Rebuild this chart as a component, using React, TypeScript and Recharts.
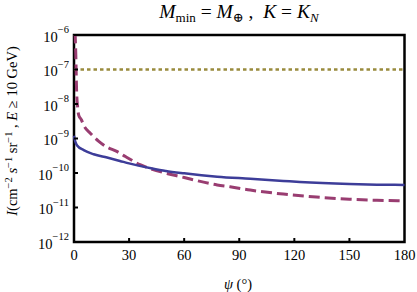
import React from 'react';
import { LineChart, Line, XAxis, YAxis, ReferenceArea, Label } from 'recharts';

document.body.style.margin = '0';

const serif = '"Liberation Serif", "DejaVu Serif", serif';

// axis ticks
const psiTicks = [0, 30, 60, 90, 120, 150, 180];
const fluxTicks = [1e-12, 1e-11, 1e-10, 1e-9, 1e-8, 1e-7, 1e-6];

// solid blue curve
const psiBlue = [0, 0.5, 1, 1.7, 5.3, 10.7, 18, 25, 30, 42, 50, 60, 78, 96, 114, 123, 150, 165, 180];
const fluxBlue = [
  1.2e-9, 8.9e-10, 7.4e-10, 6.3e-10, 4.6e-10, 3.5e-10, 2.8e-10, 2.24e-10, 1.9e-10, 1.38e-10,
  1.15e-10, 9.8e-11, 7.8e-11, 6.8e-11, 5.9e-11, 5.5e-11, 4.8e-11, 4.6e-11, 4.5e-11,
];

// dashed magenta curve
const psiMagenta = [0, 0.5, 1, 1.4, 2, 2.6, 4, 5.3, 9, 13.5, 18, 23, 28, 36, 42, 49, 60, 67, 78, 85, 96, 114, 132, 150, 165, 180];
const fluxMagenta = [
  1e-5, 1.6e-6, 2.5e-7, 2.5e-8, 7.9e-9, 4.7e-9, 3.5e-9, 2.4e-9, 1.4e-9, 8.3e-10, 5.6e-10, 4.3e-10,
  3.0e-10, 1.74e-10, 1.32e-10, 1.02e-10, 7.4e-11, 6.0e-11, 4.5e-11, 4.0e-11, 3.2e-11, 2.45e-11,
  2.0e-11, 1.74e-11, 1.62e-11, 1.55e-11,
];

// dotted olive line
const psiOlive = [0, 180];
const fluxOlive = [1e-7, 1e-7];

const toRows = (psi: number[], flux: number[]) => psi.map((p, i) => ({ psi: p, flux: flux[i] }));

const YTick = (props: any) => {
  const { x, y, payload } = props;
  const exp = Math.round(Math.log10(payload.value));
  return (
    <g>
      <line x1={x + 5} x2={x + 9} y1={y} y2={y} stroke="#000" strokeWidth={2} />
      <text x={x} y={y} textAnchor="end" fontFamily={serif} fontSize={14.5} fill="#000">
        <tspan dy="0.45em">10</tspan>
        <tspan dy="-0.8em" fontSize={10.5}>{`−${-exp}`}</tspan>
      </text>
    </g>
  );
};

const XTick = (props: any) => {
  const { x, y, payload } = props;
  return (
    <g>
      {payload.value > 0 && payload.value < 180 && (
        <line x1={x} x2={x} y1={y - 6} y2={y - 10} stroke="#000" strokeWidth={2} />
      )}
      <text x={x} y={y} dy="0.8em" textAnchor="middle" fontFamily={serif} fontSize={14.5} fill="#000">
        {payload.value}
      </text>
    </g>
  );
};

const YTitle = () => (
  <text x={17} y={131} transform="rotate(-90 17 131)" textAnchor="middle" fontFamily={serif} fontSize={14.5} fill="#000">
    <tspan fontStyle="italic">I</tspan>
    <tspan>(cm</tspan>
    <tspan dy={-5} fontSize={10.5}>−2</tspan>
    <tspan dy={5}> </tspan>
    <tspan fontStyle="italic">s</tspan>
    <tspan dy={-5} fontSize={10.5}>−1</tspan>
    <tspan dy={5}> sr</tspan>
    <tspan dy={-5} fontSize={10.5}>−1</tspan>
    <tspan dy={5}> , </tspan>
    <tspan fontStyle="italic">E</tspan>
    <tspan> ≥ 10 GeV)</tspan>
  </text>
);

const XTitle = () => (
  <text x={238} y={289} textAnchor="middle" fontFamily={serif} fontSize={14.5} fill="#000">
    <tspan fontStyle="italic">ψ</tspan>
    <tspan> (°)</tspan>
  </text>
);

export default function App() {
  return (
    <div style={{ position: 'relative', width: 417, height: 292, background: '#fff' }}>
      <div
        style={{
          position: 'absolute',
          top: 1,
          left: 74,
          width: 330,
          textAlign: 'center',
          fontFamily: serif,
          fontSize: 19.5,
          lineHeight: '22px',
          whiteSpace: 'nowrap',
        }}
      >
        <i>M</i>
        <span style={{ fontSize: 13, position: 'relative', top: 4 }}>min</span> = <i>M</i>
        <span style={{ fontSize: 13, position: 'relative', top: 4 }}>⊕</span> ,&nbsp; <i>K</i> = <i>K</i>
        <span style={{ fontSize: 13, position: 'relative', top: 4, fontStyle: 'italic' }}>N</span>
      </div>
      <LineChart width={417} height={292} margin={{ top: 35, right: 12.5, bottom: 20, left: 0 }}>
        <XAxis
          type="number"
          dataKey="psi"
          domain={[0, 180]}
          ticks={psiTicks}
          height={30}
          axisLine={false}
          tickLine={false}
          tickSize={0}
          tickMargin={6}
          tick={<XTick />}
        >
          <Label content={<XTitle />} />
        </XAxis>
        <YAxis
          type="number"
          scale="log"
          domain={[1e-12, 1e-6]}
          ticks={fluxTicks}
          allowDataOverflow
          width={74}
          axisLine={false}
          tickLine={false}
          tickSize={0}
          tickMargin={5}
          tick={<YTick />}
        >
          <Label content={<YTitle />} />
        </YAxis>
        <Line
          data={toRows(psiOlive, fluxOlive)}
          dataKey="flux"
          stroke="#998b3d"
          strokeWidth={2.5}
          strokeDasharray="3.5 3"
          dot={false}
          isAnimationActive={false}
        />
        <Line
          data={toRows(psiMagenta, fluxMagenta)}
          dataKey="flux"
          type="monotone"
          stroke="#993d71"
          strokeWidth={3}
          strokeDasharray="11 5"
          dot={false}
          isAnimationActive={false}
        />
        <Line
          data={toRows(psiBlue, fluxBlue)}
          dataKey="flux"
          type="monotone"
          stroke="#3d3d99"
          strokeWidth={2.5}
          dot={false}
          isAnimationActive={false}
        />
        <ReferenceArea x1={0} x2={180} y1={1e-12} y2={1e-6} fill="none" stroke="#000" strokeWidth={2.5} ifOverflow="visible" />
      </LineChart>
    </div>
  );
}
